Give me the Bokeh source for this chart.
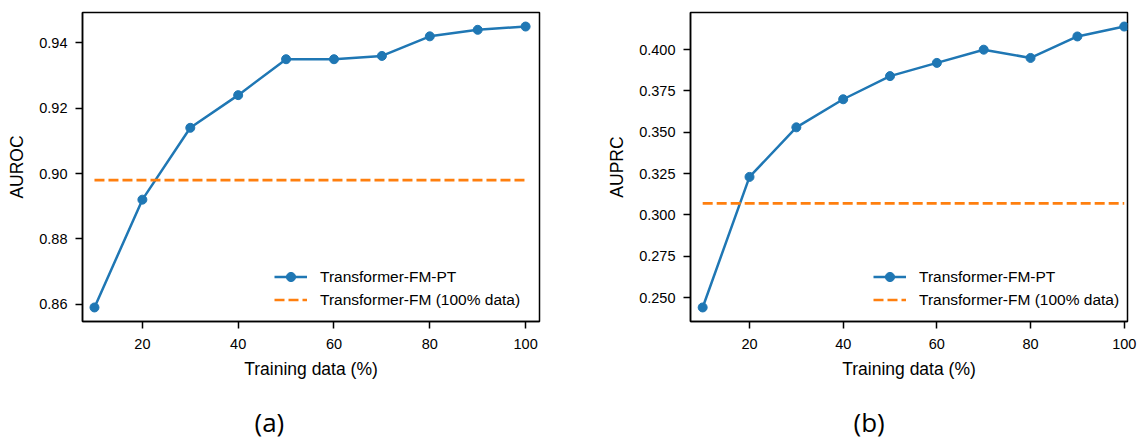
from bokeh.plotting import figure
from bokeh.layouts import row
from bokeh.models import Range1d, FixedTicker, PrintfTickFormatter, Title, Legend
from bokeh.embed import file_html
from bokeh.resources import INLINE

# ---- data ----
train_pct = [10, 20, 30, 40, 50, 60, 70, 80, 90, 100]
auroc_pt = [0.859, 0.892, 0.914, 0.924, 0.935, 0.935, 0.936, 0.942, 0.944, 0.945]
auroc_fm = 0.898
auprc_pt = [0.244, 0.323, 0.353, 0.370, 0.384, 0.392, 0.400, 0.395, 0.408, 0.414]
auprc_fm = 0.307
x_ticks = [20, 40, 60, 80, 100]
auroc_ticks = [0.86, 0.88, 0.90, 0.92, 0.94]
auprc_ticks = [0.250, 0.275, 0.300, 0.325, 0.350, 0.375, 0.400]
series_pt = "Transformer-FM-PT"
series_fm = "Transformer-FM (100% data)"

BLUE = "#1f77b4"
ORANGE = "#ff7f0e"
FONT = "Liberation Sans"


def make_panel(width, bl, br, xr, yr, yvals, base, yticks, yfmt, ylabel, caption, cap_off, leg_x):
    p = figure(width=width, height=439, output_backend="svg", toolbar_location=None,
               x_range=Range1d(*xr), y_range=Range1d(*yr),
               min_border_left=bl, min_border_right=br, min_border_top=12, min_border_bottom=116)
    p.grid.visible = False
    p.outline_line_color = "black"
    p.outline_line_width = 1.5
    p.outline_line_alpha = 1.0
    for ax in (p.xaxis, p.yaxis):
        ax.axis_line_width = 1.5
        ax.axis_line_color = "black"
        ax.major_tick_in = 0
        ax.major_tick_out = 7
        ax.major_tick_line_width = 1.5
        ax.major_tick_line_color = "black"
        ax.minor_tick_line_color = None
        ax.major_label_text_font = FONT
        ax.major_label_text_font_size = "14.5px"
        ax.major_label_text_color = "black"
        ax.axis_label_text_font = FONT
        ax.axis_label_text_font_size = "17.5px"
        ax.axis_label_text_font_style = "normal"
        ax.axis_label_text_color = "black"
    p.xaxis.ticker = FixedTicker(ticks=x_ticks)
    p.yaxis.ticker = FixedTicker(ticks=yticks)
    p.yaxis.formatter = PrintfTickFormatter(format=yfmt)
    p.xaxis.major_label_standoff = 10
    p.yaxis.major_label_standoff = 8
    p.xaxis.axis_label = "Training data (%)"
    p.yaxis.axis_label = ylabel
    p.xaxis.axis_label_standoff = 7
    p.yaxis.axis_label_standoff = 9

    r1 = p.line(train_pct, yvals, line_color=BLUE, line_width=2.5)
    r2 = p.scatter(train_pct, yvals, size=9, fill_color=BLUE, line_color=BLUE)
    r3 = p.line([train_pct[0], train_pct[-1]], [base, base], line_color=ORANGE,
                line_width=2.7, line_dash="10 4")

    leg = Legend(items=[(series_pt, [r1, r2]), (series_fm, [r3])],
                 location=(leg_x, 10))
    leg.label_text_font = FONT
    leg.label_text_font_size = "15.5px"
    leg.label_text_color = "black"
    leg.glyph_width = 33
    leg.glyph_height = 23
    leg.label_height = 23
    leg.label_standoff = 13
    leg.spacing = 0
    leg.padding = 0
    leg.margin = 0
    leg.background_fill_alpha = 0
    leg.border_line_alpha = 0
    p.add_layout(leg, "center")

    # spacer between axis label and caption
    spacer = Title(text=" ", text_font_size="1px", standoff=17)
    p.add_layout(spacer, "below")
    cap = Title(text=caption, text_font="Open Sans", text_font_size="26px",
                text_font_style="normal", text_color="black", align="left",
                offset=cap_off, standoff=0)
    p.add_layout(cap, "below")
    return p


pa = make_panel(570, 82, 31, (7.5, 102.9), (0.8547, 0.9493), auroc_pt, auroc_fm,
                auroc_ticks, "%.2f", "AUROC", "(a)", 172, 192)
pb = make_panel(569, 120, 12, (7.4, 100.7), (0.2355, 0.4225), auprc_pt, auprc_fm,
                auprc_ticks, "%.3f", "AUPRC", "(b)", 163, 183)

layout = row(pa, pb)
open("out.html", "w").write(file_html(layout, INLINE))
